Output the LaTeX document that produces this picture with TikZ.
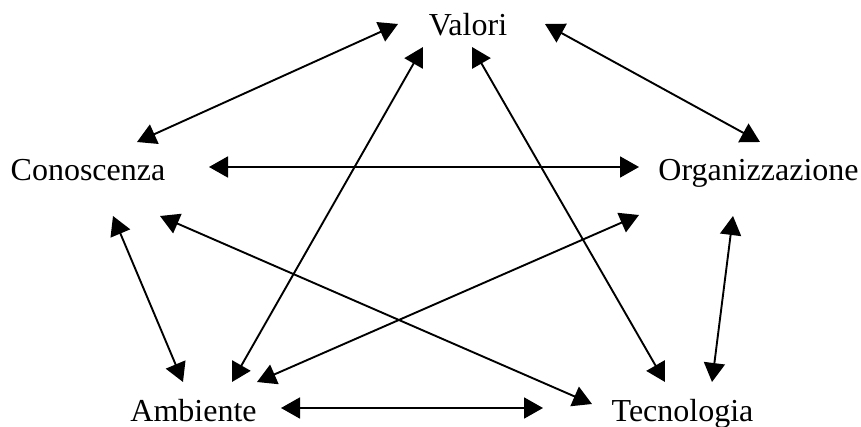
\documentclass[tikz,border=0pt]{standalone}
\usepackage{fontspec}
\setmainfont{Liberation Serif}
\usetikzlibrary{arrows.meta}
\begin{document}
\begin{tikzpicture}[x=1pt,y=-1pt,
  label/.style={anchor=base,inner sep=0pt,font=\fontsize{32}{36}\selectfont},
  link/.style={line width=1.9pt,{Triangle[length=19pt,width=21pt]}-{Triangle[length=19pt,width=21pt]}}]
\useasboundingbox (0,0) rectangle (861,427);
% labels
\node[label] (val) at (468,36) {Valori};
\node[label] (con) at (88,181) {Conoscenza};
\node[label] (org) at (758.5,181) {Organizzazione};
\node[label] (amb) at (193.5,421) {Ambiente};
\node[label] (tec) at (682.5,421) {Tecnologia};
% arrow end points around each label
\coordinate (vc) at (398,24);  \coordinate (cv) at (137,142);
\coordinate (vo) at (545,24);  \coordinate (ov) at (760,142);
\coordinate (co) at (209,167); \coordinate (oc) at (639,167);
\coordinate (va) at (423,47);  \coordinate (av) at (232,382);
\coordinate (vt) at (472,47);  \coordinate (tv) at (665,382);
\coordinate (ct) at (160,216); \coordinate (tc) at (592,404);
\coordinate (oa) at (639,215); \coordinate (ao) at (257,382);
\coordinate (ca) at (113,216); \coordinate (ac) at (183,382);
\coordinate (ot) at (733,216); \coordinate (to) at (712,382);
\coordinate (at) at (281,408); \coordinate (ta) at (543,408);
% connections
\draw[link] (vc) -- (cv);
\draw[link] (vo) -- (ov);
\draw[link] (co) -- (oc);
\draw[link] (va) -- (av);
\draw[link] (vt) -- (tv);
\draw[link] (ct) -- (tc);
\draw[link] (oa) -- (ao);
\draw[link] (ca) -- (ac);
\draw[link] (ot) -- (to);
\draw[link] (at) -- (ta);
\end{tikzpicture}
\end{document}
